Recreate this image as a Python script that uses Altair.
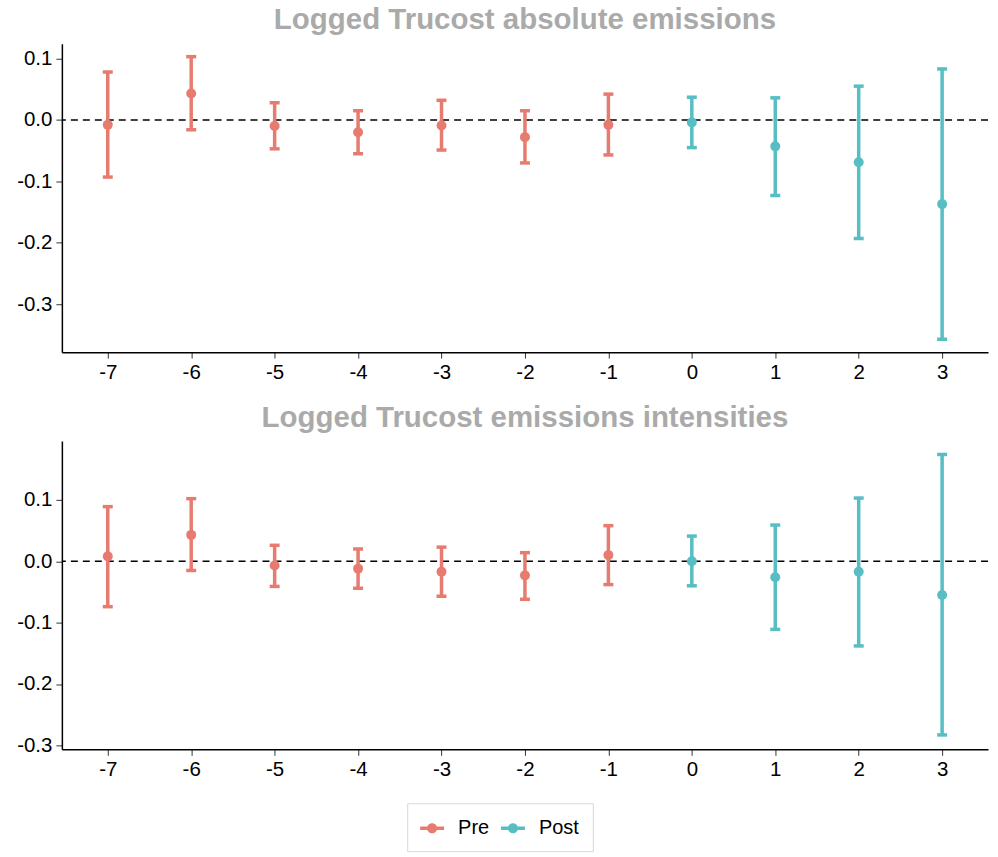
import altair as alt
import pandas as pd

periods = [-7, -6, -5, -4, -3, -2, -1, 0, 1, 2, 3]
phase = ["Pre"] * 7 + ["Post"] * 4

abs_est = [-0.008, 0.043, -0.010, -0.020, -0.009, -0.028, -0.008, -0.004, -0.043, -0.069, -0.137]
abs_lo = [-0.093, -0.016, -0.047, -0.055, -0.049, -0.070, -0.057, -0.045, -0.123, -0.193, -0.357]
abs_hi = [0.078, 0.103, 0.028, 0.015, 0.032, 0.015, 0.042, 0.037, 0.036, 0.055, 0.083]

int_est = [0.008, 0.043, -0.007, -0.012, -0.017, -0.023, 0.010, 0.000, -0.026, -0.017, -0.055]
int_lo = [-0.074, -0.015, -0.041, -0.044, -0.057, -0.062, -0.038, -0.040, -0.111, -0.138, -0.283]
int_hi = [0.089, 0.102, 0.026, 0.020, 0.023, 0.014, 0.058, 0.041, 0.059, 0.103, 0.174]

y_ticks = [-0.3, -0.2, -0.1, 0.0, 0.1]
phase_order = ["Pre", "Post"]
phase_colors = ["#E87B70", "#57BEC4"]

LEGEND_PATH = ("M-1,-0.15L1,-0.15L1,0.15L-1,0.15Z"
               "M-0.42,0A0.42,0.42,0,1,1,0.42,0A0.42,0.42,0,1,1,-0.42,0Z")

PAD_L, PAD_T = 16, 4
PLOT_X0, PLOT_Y0 = 61, 43
LABEL_FONT = "Liberation Sans"
LABEL_SIZE = 20.5

color_scale = alt.Scale(domain=phase_order, range=phase_colors)
legend = alt.Legend(
    title=None,
    orient="none",
    direction="horizontal",
    legendX=407 - PLOT_X0,
    legendY=804 - PLOT_Y0,
    symbolType=LEGEND_PATH,
    symbolSize=576,
    symbolStrokeWidth=0,
    symbolOpacity=1,
    labelFont=LABEL_FONT,
    labelFontSize=20,
    labelColor="black",
    labelOffset=14,
    columnPadding=11,
    padding=13,
    strokeColor="#d9d9d9",
    fillColor="white",
)


def panel(est, lo, hi, title, ydomain):
    df = pd.DataFrame({"period": periods, "phase": phase, "est": est, "lo": lo, "hi": hi})
    base = alt.Chart(df)
    x = alt.X(
        "period:Q",
        scale=alt.Scale(domain=[-7.55, 3.55], nice=False, zero=False),
        axis=alt.Axis(
            values=periods,
            title=None,
            labelFont=LABEL_FONT,
            labelFontSize=LABEL_SIZE,
            labelColor="black",
            labelPadding=4,
            labelExpr="datum.value < 0 ? '-' + format(-datum.value, 'd') : format(datum.value, 'd')",
        ),
    )
    yscale = alt.Scale(domain=ydomain, nice=False, zero=False)
    yaxis = alt.Axis(
        values=y_ticks,
        title=None,
        labelFont=LABEL_FONT,
        labelFontSize=LABEL_SIZE,
        labelColor="black",
        labelPadding=4,
        labelExpr="datum.value < -0.00001 ? '-' + format(-datum.value, '.1f') : format(abs(datum.value), '.1f')",
    )
    color = alt.Color("phase:N", scale=color_scale, legend=legend)
    zero = alt.Chart(pd.DataFrame({"z": [0.0]})).mark_rule(
        color="black", strokeDash=[7, 5], strokeWidth=1.5
    ).encode(y=alt.Y("z:Q", scale=yscale, axis=yaxis))
    pts = base.mark_circle(size=100, opacity=1).encode(
        x=x,
        y=alt.Y("est:Q", scale=yscale, axis=yaxis),
        color=color,
    )
    bars = base.mark_rule(strokeWidth=3.5).encode(
        x=x,
        y=alt.Y("lo:Q", scale=yscale, axis=yaxis),
        y2="hi:Q",
        color=color,
    )
    cap_hi = base.mark_rule(strokeWidth=3.5, xOffset=-5, x2Offset=5).encode(
        x=x,
        x2="period:Q",
        y=alt.Y("hi:Q", scale=yscale, axis=yaxis),
        color=color,
    )
    cap_lo = base.mark_rule(strokeWidth=3.5, xOffset=-5, x2Offset=5).encode(
        x=x,
        x2="period:Q",
        y=alt.Y("lo:Q", scale=yscale, axis=yaxis),
        color=color,
    )
    return alt.layer(zero, pts, bars, cap_hi, cap_lo).properties(
        width=928, height=309, title=alt.Title(title)
    )


top = panel(abs_est, abs_lo, abs_hi, "Logged Trucost absolute emissions", [-0.378, 0.124])
bottom = panel(int_est, int_lo, int_hi, "Logged Trucost emissions intensities", [-0.3065, 0.196])

chart = (
    alt.vconcat(top, bottom, spacing=19)
    .resolve_scale(color="shared")
    .properties(padding={"left": PAD_L, "top": PAD_T, "right": 9, "bottom": 3}, background="white")
    .configure_view(stroke=None)
    .configure_axis(
        grid=False,
        domainColor="black",
        domainWidth=1.5,
        tickColor="#333333",
        tickSize=6,
        tickWidth=1,
    )
    .configure_title(
        font="Liberation Sans",
        fontSize=29.5,
        fontWeight="bold",
        color="#aaaaaa",
        anchor="middle",
        offset=8,
    )
)

chart.save("out.html", embed_options={"renderer": "svg", "actions": False})
